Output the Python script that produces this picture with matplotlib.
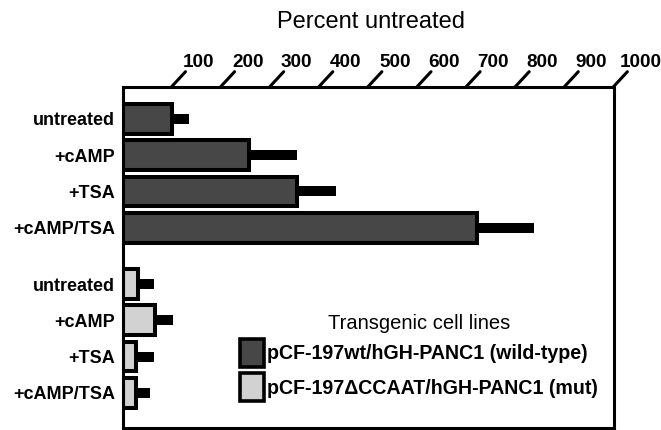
import matplotlib
matplotlib.use("Agg")
import matplotlib.pyplot as plt
import matplotlib.transforms as mtransforms
from matplotlib.patches import Patch
import numpy as np

plt.rcParams['font.family'] = ['Liberation Sans', 'DejaVu Sans']

# ---- data ----
categories = ["untreated", "+cAMP", "+TSA", "+cAMP/TSA"]
wt_values = [100, 257, 355, 722]
wt_errors = [35, 99, 79, 117]
mut_values = [31, 67, 27, 27]
mut_errors = [33, 35, 37, 28]
tick_values = [100, 200, 300, 400, 500, 600, 700, 800, 900, 1000]
series_labels = ["pCF-197wt/hGH-PANC1 (wild-type)", "pCF-197\u0394CCAAT/hGH-PANC1 (mut)"]
legend_title = "Transgenic cell lines"
axis_title = "Percent untreated"

wt_color = "#474747"
mut_color = "#d2d2d2"

fig = plt.figure(figsize=(6.61, 4.30), dpi=100)
ax = fig.add_axes([122.5 / 661, 1 - 428.3 / 430, (613.5 - 122.5) / 661, (428.3 - 86.7) / 430])

wt_pos = np.arange(len(categories))
mut_pos = wt_pos + len(categories) + 0.55
bar_h = 0.82

for pos, vals, errs, col in [(wt_pos, wt_values, wt_errors, wt_color),
                             (mut_pos, mut_values, mut_errors, mut_color)]:
    ax.errorbar(vals, pos, xerr=[np.zeros(len(errs)), errs], fmt='none',
                ecolor='black', elinewidth=7.2, capsize=0, zorder=1)
    ax.barh(pos, vals, height=bar_h, color=col, edgecolor='black',
            linewidth=2.9, zorder=2)

ax.set_xlim(0, 1000)
ax.set_ylim(mut_pos[-1] + 0.975, -0.887)

ax.set_yticks(list(wt_pos) + list(mut_pos))
ax.set_yticklabels(categories + categories, fontsize=13, fontweight='bold')
ax.tick_params(axis='y', length=0, pad=5.4)
ax.set_xticks([])

for sp in ax.spines.values():
    sp.set_linewidth(2.2)

# slanted ticks on top edge with labels
trans = mtransforms.blended_transform_factory(ax.transData, ax.transAxes)
for v in tick_values:
    ax.annotate('', xy=(v, 1), xycoords=trans, xytext=(10, 10.8),
                textcoords='offset points',
                arrowprops=dict(arrowstyle='-', lw=2.2, color='black',
                                shrinkA=0, shrinkB=0),
                annotation_clip=False)
    ax.annotate(str(v), xy=(v, 1), xycoords=trans, xytext=(19.4, 14.4),
                textcoords='offset points', ha='center', va='baseline',
                fontsize=13.6, fontweight='bold', annotation_clip=False)

fig.text((276.7 + 466) / 2 / 661, 1 - 28.3 / 430, axis_title, ha='center',
         va='baseline', fontsize=17)

handles = [Patch(facecolor=wt_color, edgecolor='black', linewidth=2.6),
           Patch(facecolor=mut_color, edgecolor='black', linewidth=2.6)]
leg = ax.legend(handles, series_labels, title=legend_title, loc='upper left',
                bbox_to_anchor=((240 - 122.5) / 491, (428.3 - 314) / 341.6),
                frameon=False, borderpad=0, borderaxespad=0,
                prop={'weight': 'bold', 'size': 14.1},
                title_fontproperties={'size': 14.5},
                handlelength=1.25, handleheight=1.85, handletextpad=0.12,
                labelspacing=0.3)

fig.savefig("out.png", dpi=100)
